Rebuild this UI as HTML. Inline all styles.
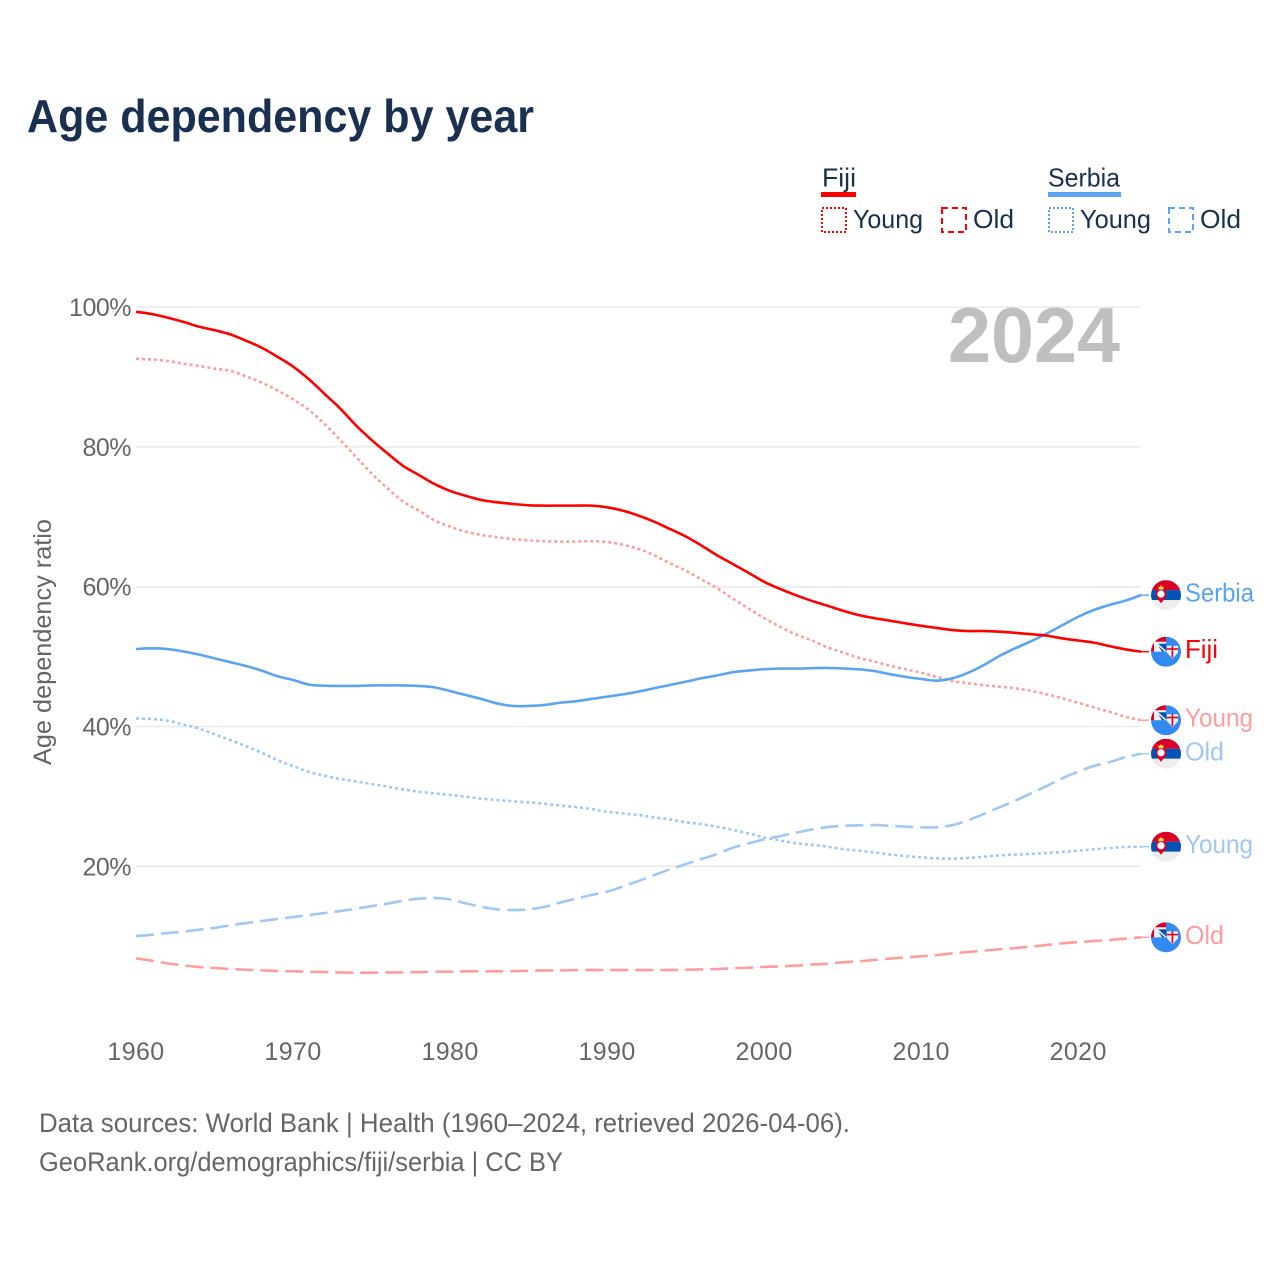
<!DOCTYPE html>
<html>
<head>
<meta charset="utf-8">
<title>Age dependency by year</title>
<style>
html,body{margin:0;padding:0;background:#fff;width:1280px;height:1280px;overflow:hidden}
svg{display:block}
text{font-family:"Liberation Sans",sans-serif}
</style>
</head>
<body>
<svg id="chart" width="1280" height="1280" viewBox="0 0 1280 1280" xmlns="http://www.w3.org/2000/svg">
  <defs>
    <clipPath id="flag-clip"><circle cx="0" cy="0" r="15"/></clipPath>
    <symbol id="flag-serbia" overflow="visible" viewBox="-15 -15 30 30" width="30" height="30">
      <g clip-path="url(#flag-clip)">
        <rect x="-15" y="-15" width="30" height="10" fill="#d80027"/>
        <rect x="-15" y="-5" width="30" height="10" fill="#0052b4"/>
        <rect x="-15" y="5" width="30" height="10" fill="#eeeeee"/>
        <path d="M-10 -5 h10 v7 l-5 6 l-5 -6z" fill="#d80027"/>
        <circle cx="-5" cy="-1" r="3.6" fill="#fff"/>
        <path d="M-7.5 -5.5 v-3.5 l1.2 1.2 l1.3 -2 l1.3 2 l1.2 -1.2 v3.5z" fill="#ffda44"/>
      </g>
    </symbol>
    <symbol id="flag-fiji" overflow="visible" viewBox="-15 -15 30 30" width="30" height="30">
      <g clip-path="url(#flag-clip)">
        <rect x="-15" y="-15" width="30" height="30" fill="#338af3"/>
        <rect x="-15" y="-15" width="15" height="15" fill="#f0f0f0"/>
        <rect x="-12" y="-15" width="12" height="5" fill="#d80027"/>
        <rect x="-15" y="-12" width="3" height="12" fill="#d80027"/>
        <path d="M-9 -8 h9 v8 h-4z" fill="#0052b4"/>
        <path d="M-9 -8 L0 0" stroke="#f0f0f0" stroke-width="1.6"/>
        <path d="M1 -6 h11 v7 l-5.5 6 l-5.5 -6z" fill="#f0f0f0"/>
        <rect x="5.6" y="-6" width="1.6" height="12" fill="#d80027"/>
        <rect x="1" y="-3.5" width="11" height="1.6" fill="#d80027"/>
      </g>
    </symbol>
  </defs>

  <text x="27" y="132" font-size="46" font-weight="700" fill="#1a3050" textLength="507" lengthAdjust="spacingAndGlyphs">Age dependency by year</text>

  <g fill="#1a3050" font-size="26">
    <text x="822" y="186.5" textLength="34" lengthAdjust="spacingAndGlyphs">Fiji</text>
    <rect x="821" y="192" width="35" height="5" fill="#ff0000"/>
    <rect x="822" y="208" width="24" height="24" fill="none" stroke="#ff0000" stroke-width="2" stroke-dasharray="2 2"/>
    <text x="853" y="228" textLength="70" lengthAdjust="spacingAndGlyphs">Young</text>
    <rect x="942" y="208" width="24" height="24" fill="none" stroke="#ff0000" stroke-width="2" stroke-dasharray="6 4"/>
    <text x="973" y="228" textLength="41" lengthAdjust="spacingAndGlyphs">Old</text>
    <text x="1048" y="186.5" textLength="72" lengthAdjust="spacingAndGlyphs">Serbia</text>
    <rect x="1048" y="192" width="73" height="5" fill="#5ba4f0"/>
    <rect x="1049" y="208" width="24" height="24" fill="none" stroke="#5ba4f0" stroke-width="2" stroke-dasharray="2 2"/>
    <text x="1080" y="228" textLength="71" lengthAdjust="spacingAndGlyphs">Young</text>
    <rect x="1169" y="208" width="24" height="24" fill="none" stroke="#5ba4f0" stroke-width="2" stroke-dasharray="6 4"/>
    <text x="1200" y="228" textLength="41" lengthAdjust="spacingAndGlyphs">Old</text>
  </g>

  <g id="grid"></g>
  <g id="yticks"></g>
  <g id="xticks"></g>

  <text x="948" y="362" font-size="78" font-weight="700" fill="#bfbfbf" textLength="172" lengthAdjust="spacingAndGlyphs">2024</text>

  <text transform="translate(51,765) rotate(-90)" font-size="25" fill="#666666" textLength="246" lengthAdjust="spacingAndGlyphs">Age dependency ratio</text>

  <g id="series"></g>
  <g id="ends"></g>

  <text x="39" y="1132" font-size="27" fill="#666666" textLength="811" lengthAdjust="spacingAndGlyphs">Data sources: World Bank | Health (1960–2024, retrieved 2026-04-06).</text>
  <text x="39" y="1171" font-size="27" fill="#666666" textLength="524" lengthAdjust="spacingAndGlyphs">GeoRank.org/demographics/fiji/serbia | CC BY</text>
</svg>

<script>
const startYear = 1960;
const xTickYears = [1960, 1970, 1980, 1990, 2000, 2010, 2020];
const yTickValues = [20, 40, 60, 80, 100];

const fijiTotal = [99.33,99.0,98.5,97.9,97.2,96.7,96.1,95.2,94.2,92.9,91.5,89.7,87.6,85.5,83.1,81.0,79.1,77.3,76.0,74.7,73.7,73.0,72.4,72.07,71.84,71.65,71.6,71.6,71.6,71.6,71.36,70.88,70.17,69.3,68.26,67.2,65.9,64.5,63.25,62.0,60.7,59.7,58.8,58.0,57.3,56.57,55.95,55.5,55.14,54.76,54.4,54.1,53.8,53.66,53.66,53.57,53.4,53.2,53.0,52.6,52.3,52.0,51.5,51.04,50.7];
const fijiYoung = [92.6,92.5,92.3,91.9,91.6,91.2,90.9,90.1,89.2,88.1,86.8,85.3,83.3,81.0,78.6,76.2,74.1,72.2,70.9,69.5,68.6,67.86,67.4,67.07,66.8,66.64,66.5,66.45,66.45,66.5,66.4,66.0,65.4,64.5,63.35,62.3,61.06,59.8,58.3,56.9,55.5,54.3,53.2,52.35,51.35,50.6,49.85,49.3,48.7,48.2,47.7,47.1,46.5,46.2,45.9,45.7,45.46,45.1,44.6,44.03,43.4,42.74,42.1,41.4,40.9];
const fijiOld = [6.83,6.5,6.11,5.83,5.59,5.45,5.3,5.2,5.11,5.02,4.97,4.92,4.87,4.82,4.78,4.78,4.82,4.82,4.87,4.92,4.92,4.97,4.97,4.97,5.0,5.06,5.1,5.1,5.16,5.16,5.16,5.16,5.16,5.16,5.16,5.2,5.25,5.3,5.4,5.5,5.6,5.68,5.78,5.95,6.05,6.26,6.4,6.6,6.79,6.98,7.12,7.3,7.55,7.74,7.93,8.12,8.31,8.5,8.74,8.98,9.17,9.31,9.46,9.65,9.84];
const serbiaTotal = [51.08,51.18,51.08,50.75,50.3,49.75,49.2,48.65,48.0,47.2,46.65,46.0,45.84,45.8,45.8,45.88,45.88,45.88,45.8,45.6,45.07,44.5,43.94,43.3,42.94,42.94,43.08,43.4,43.6,43.94,44.27,44.6,45.0,45.47,45.94,46.4,46.9,47.3,47.76,48.0,48.2,48.28,48.28,48.34,48.37,48.3,48.18,47.94,47.5,47.1,46.8,46.56,46.9,47.7,48.8,50.1,51.2,52.2,53.3,54.5,55.7,56.67,57.4,58.0,58.8];
const serbiaYoung = [41.16,41.07,40.83,40.3,39.73,38.9,38.06,37.2,36.25,35.2,34.34,33.53,32.96,32.5,32.15,31.77,31.4,31.0,30.67,30.43,30.2,29.96,29.67,29.48,29.3,29.14,28.95,28.7,28.48,28.2,27.8,27.57,27.33,27.0,26.7,26.3,26.04,25.66,25.2,24.7,24.14,23.7,23.3,23.08,22.82,22.47,22.24,22.0,21.7,21.47,21.28,21.14,21.09,21.19,21.38,21.57,21.67,21.76,21.9,22.05,22.24,22.43,22.62,22.76,22.8];
const serbiaOld = [10.02,10.2,10.45,10.64,10.93,11.2,11.55,11.88,12.17,12.45,12.74,13.03,13.31,13.6,13.93,14.3,14.65,15.08,15.36,15.46,15.27,14.7,14.2,13.84,13.74,13.84,14.2,14.8,15.36,15.9,16.36,17.1,17.9,18.75,19.56,20.3,21.04,21.75,22.66,23.28,23.85,24.3,24.8,25.25,25.6,25.8,25.86,25.9,25.8,25.67,25.58,25.58,25.9,26.6,27.5,28.44,29.4,30.44,31.5,32.6,33.54,34.35,34.9,35.6,36.1];

const NS = 'http://www.w3.org/2000/svg';
function xScale(year) { return 136 + (year - 1960) * (1141 - 136) / 64; }
function yScale(v) { return 1006.1 - v * 6.99; }
function mk(tag, parent) {
  const el = document.createElementNS(NS, tag);
  parent.appendChild(el);
  return el;
}
function smoothPath(values) {
  const p = values.map(function (v, i) { return [xScale(startYear + i), yScale(v)]; });
  let d = 'M' + p[0][0].toFixed(2) + ' ' + p[0][1].toFixed(2);
  for (let i = 0; i < p.length - 1; i++) {
    const a = p[Math.max(i - 1, 0)], b = p[i], c = p[i + 1], e = p[Math.min(i + 2, p.length - 1)];
    const c1x = b[0] + (c[0] - a[0]) / 6, c1y = b[1] + (c[1] - a[1]) / 6;
    const c2x = c[0] - (e[0] - b[0]) / 6, c2y = c[1] - (e[1] - b[1]) / 6;
    d += 'C' + c1x.toFixed(2) + ' ' + c1y.toFixed(2) + ' ' + c2x.toFixed(2) + ' ' + c2y.toFixed(2) + ' ' + c[0].toFixed(2) + ' ' + c[1].toFixed(2);
  }
  return d;
}

const grid = document.getElementById('grid');
const yticks = document.getElementById('yticks');
yTickValues.forEach(function (v) {
  const line = mk('line', grid);
  
  
  line.setAttribute('x1', xScale(1960));
  line.setAttribute('x2', xScale(2024));
  line.setAttribute('y1', yScale(v));
  line.setAttribute('y2', yScale(v));
  line.setAttribute('stroke', '#e9e9e9');
  line.setAttribute('stroke-width', '1.5');
  const label = mk('text', yticks);
  
  
  label.setAttribute('x', 131);
  label.setAttribute('y', yScale(v) + 9);
  label.setAttribute('text-anchor', 'end');
  label.setAttribute('font-size', '25');
  label.setAttribute('letter-spacing', '-0.5');
  label.setAttribute('fill', '#666666');
  label.textContent = v + '%';
});

const xticks = document.getElementById('xticks');
xTickYears.forEach(function (yr) {
  const label = mk('text', xticks);
  
  
  label.setAttribute('x', xScale(yr));
  label.setAttribute('y', 1060);
  label.setAttribute('text-anchor', 'middle');
  label.setAttribute('font-size', '25');
  label.setAttribute('letter-spacing', '0.4');
  label.setAttribute('fill', '#666666');
  label.textContent = yr;
});

const seriesGroup = document.getElementById('series');
const endsGroup = document.getElementById('ends');
const seriesList = [
  { name: 'fiji-old',     values: fijiOld,     color: '#ff9c9c', dash: '18 7', label: 'Old',    width: 39, flag: 'flag-fiji' },
  { name: 'serbia-young', values: serbiaYoung, color: '#a0c8f4', dash: '3 3',  label: 'Young',  width: 68, flag: 'flag-serbia' },
  { name: 'serbia-old',   values: serbiaOld,   color: '#a0c8f4', dash: '18 7', label: 'Old',    width: 39, flag: 'flag-serbia' },
  { name: 'fiji-young',   values: fijiYoung,   color: '#ff9c9c', dash: '3 3',  label: 'Young',  width: 68, flag: 'flag-fiji' },
  { name: 'serbia-total', values: serbiaTotal, color: '#5ba4f0', dash: null,   label: 'Serbia', width: 69, flag: 'flag-serbia' },
  { name: 'fiji-total',   values: fijiTotal,   color: '#ff0000', dash: null,   label: 'Fiji',   width: 33, flag: 'flag-fiji' }
];

seriesList.forEach(function (s) {
  const line = mk('path', seriesGroup);
  
  
  line.setAttribute('d', smoothPath(s.values));
  line.setAttribute('fill', 'none');
  line.setAttribute('stroke', s.color);
  line.setAttribute('stroke-width', '2.6');
  line.setAttribute('stroke-linejoin', 'round');
  if (s.dash) line.setAttribute('stroke-dasharray', s.dash);

  const last = s.values[s.values.length - 1];
  const ey = yScale(last);
  const stub = mk('line', seriesGroup);
  
  
  stub.setAttribute('x1', xScale(2024));
  stub.setAttribute('x2', xScale(2024) + 8);
  stub.setAttribute('y1', ey);
  stub.setAttribute('y2', ey);
  stub.setAttribute('stroke', s.color);
  stub.setAttribute('stroke-width', '1.4');

  const flag = mk('use', endsGroup);
  
  
  flag.setAttribute('href', '#' + s.flag);
  flag.setAttribute('x', 1151);
  flag.setAttribute('y', ey - 15);
  flag.setAttribute('width', 30);
  flag.setAttribute('height', 30);

  const label = mk('text', endsGroup);
  
  
  label.setAttribute('x', 1185);
  label.setAttribute('y', ey + 6.5);
  label.setAttribute('font-size', '26');
  label.setAttribute('fill', s.color);
  label.setAttribute('textLength', s.width);
  label.setAttribute('lengthAdjust', 'spacingAndGlyphs');
  label.textContent = s.label;
});
</script>
</body>
</html>
